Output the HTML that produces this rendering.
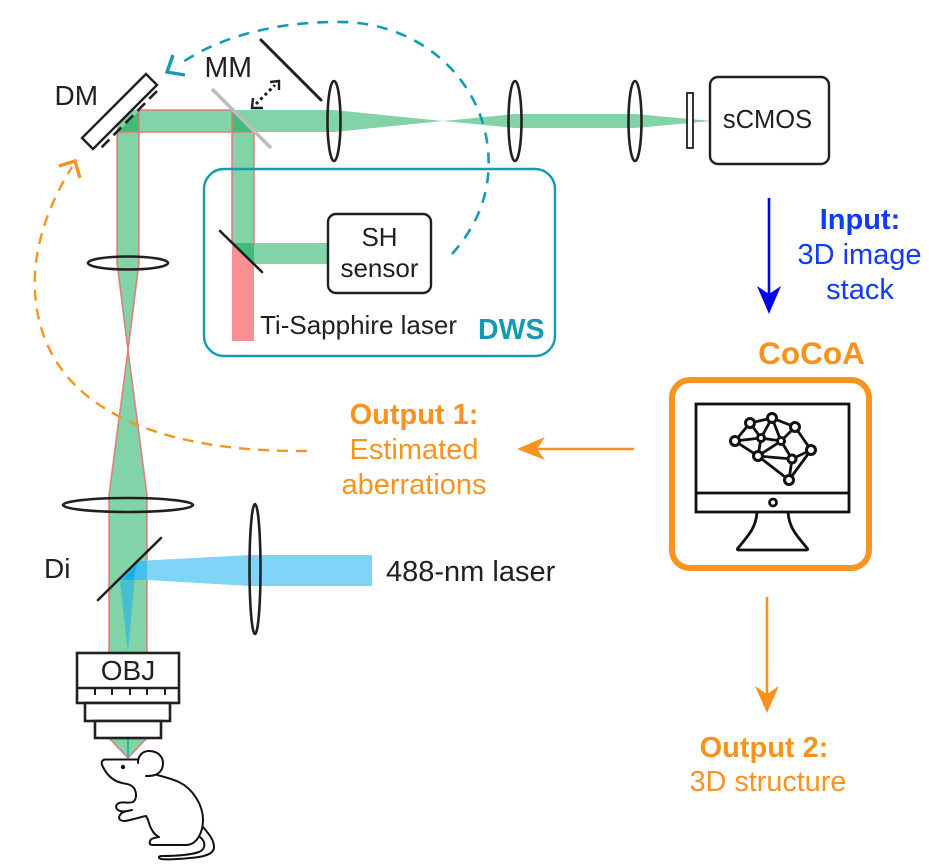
<!DOCTYPE html>
<html><head><meta charset="utf-8"><style>
html,body{margin:0;padding:0;background:#fff}
svg{display:block}
text{font-family:"Liberation Sans",Arial,sans-serif;fill:#231f20}
.o{fill:#f7931e}.b{fill:#0f3cf5}.bd{font-weight:bold}
.m{text-anchor:middle}
</style></head><body>
<svg width="929" height="864" viewBox="0 0 929 864" xmlns="http://www.w3.org/2000/svg">
<!-- beams -->
<g>
<polygon points="232,245 254,245 254,341 232,341" fill="#f98f95"/>
<polygon points="117,110 254,110 334,110 443,121 334,132 139,132 139,263 128,350 147,495 147,655 109,655 109,495 128,350 117,263" fill="#82d3a8"/>
<polygon points="232,132 254,132 254,264 328,264 328,243 232,243" fill="#82d3a8"/>
<polygon points="443,121 515,114 635,114 712,121 635,128 515,128" fill="#82d3a8"/>
<polygon points="109,738 147,738 128,758" fill="#82d3a8"/>
<line x1="128" y1="738" x2="128" y2="758" stroke="#2db89a" stroke-width="2"/>
<polygon points="118,132 139,132 139,111" fill="#3fbc7a"/>
<polygon points="232,110 254,132 232,132" fill="#3fbc7a"/>
<polygon points="232,243 254,243 254,264" fill="#3fbc7a"/>
<g fill="none" stroke="#e57373" stroke-width="1.6" opacity=".9">
<path d="M117,263 V132 H254 M139,263 V110 H232 M232,110 V243 M254,132 V245"/>
<path d="M117,263 L128,350 L139,263 M128,350 L109,495 V655 M128,350 L147,495 V655"/>
<path d="M109,738 L128,758 L147,738"/>
</g>
<polygon points="137,561 250,555 372,555 372,586 250,586 147,580 118,580" fill="#7fd4f7"/>
<polygon points="137,561 147,561 147,580 118,580" fill="#2dbbea" opacity=".75"/>
<polygon points="120,582 136,566 128,653" fill="#2db8de" opacity=".7"/>
<polygon points="122,580 137,564 133,580" fill="#17aee6"/>
</g>
<!-- DWS -->
<rect x="204" y="169" width="351" height="187" rx="20" fill="none" stroke="#169ab4" stroke-width="2.4"/>
<rect x="328" y="214" width="103" height="79" rx="8" fill="#fff" stroke="#231f20" stroke-width="2.4"/>
<rect x="710" y="77" width="119" height="87" rx="8" fill="#fff" stroke="#231f20" stroke-width="2.4"/>
<rect x="687" y="93" width="6" height="55" fill="#fff" stroke="#231f20" stroke-width="1.8"/>
<!-- lenses -->
<g fill="none" stroke="#231f20" stroke-width="2.6">
<ellipse cx="334" cy="121" rx="6.5" ry="40"/>
<ellipse cx="515" cy="121" rx="6.5" ry="40"/>
<ellipse cx="635" cy="121" rx="6.5" ry="40"/>
<ellipse cx="128" cy="263" rx="40" ry="6.5"/>
<ellipse cx="128" cy="505" rx="65" ry="7"/>
<ellipse cx="255" cy="569" rx="5.5" ry="65"/>
</g>
<!-- mirrors -->
<line x1="212" y1="89" x2="271" y2="148" stroke="#bdbdbd" stroke-width="3.6"/>
<g stroke="#231f20" fill="none" stroke-linecap="round">
<line x1="261" y1="40" x2="321" y2="100" stroke-width="3"/>
<line x1="220" y1="231" x2="262" y2="272" stroke-width="2.6"/>
<line x1="98" y1="600" x2="161" y2="538" stroke-width="2.6"/>
<polygon points="146,74 157,85 93,149 82,138" fill="#fff" stroke-width="2.4" stroke-linejoin="miter"/>
<line x1="157" y1="91" x2="99" y2="150" stroke-width="2.6" stroke-dasharray="11 6" stroke-linecap="butt"/>
<line x1="256" y1="104" x2="275" y2="85" stroke-width="3" stroke-dasharray="3 3.2" stroke-linecap="butt"/>
<path d="M253,98 L252,108 L263,108 M270,82 L279,81 L279,90" stroke-width="2.4" stroke-linecap="butt"/>
</g>
<!-- curved -->
<path d="M452,254 C478,225 492,190 488,150 C482,80 420,20 335,22 C270,22 215,40 183,62" fill="none" stroke="#169ab4" stroke-width="2.6" stroke-dasharray="11 9"/>
<path d="M173,55 L167,72 L185,75" fill="none" stroke="#169ab4" stroke-width="3.4"/>
<path d="M307,451 C200,452 120,430 75,385 C35,345 30,290 38,250 C45,215 58,190 72,167" fill="none" stroke="#f7931e" stroke-width="2.4" stroke-dasharray="11 8"/>
<path d="M59,166 L75,161 L80,178" fill="none" stroke="#f7931e" stroke-width="3.4"/>
<!-- straight arrows -->
<line x1="769" y1="198" x2="769" y2="295" stroke="#0000f0" stroke-width="2.6"/>
<polygon points="757,286 769,294 781,286 769,314" fill="#0000f0"/>
<line x1="634" y1="449" x2="530" y2="449" stroke="#f7931e" stroke-width="2.6"/>
<polygon points="517,449 545,437 537,449 545,460" fill="#f7931e"/>
<line x1="767" y1="597" x2="767" y2="695" stroke="#f7931e" stroke-width="2.6"/>
<polygon points="755,686 767,694 779,686 767,713" fill="#f7931e"/>
<!-- objective -->
<g fill="#fff" stroke="#231f20" stroke-width="2.6">
<rect x="77" y="653" width="102" height="50"/>
<rect x="85" y="703" width="85" height="18"/>
<rect x="95" y="721" width="66" height="17"/>
</g>
<path d="M77,688 H179" fill="none" stroke="#231f20" stroke-width="2.6"/>
<path d="M95,688 V695 M112,688 V695 M130,688 V695 M147,688 V695 M165,688 V695" fill="none" stroke="#231f20" stroke-width="2"/>
<!-- mouse -->
<g fill="none" stroke="#111" stroke-width="2" stroke-linejoin="round" stroke-linecap="round">
<path d="M203,827 C209,834 214,840 214,847 C214,854 205,857 190,858 C180,859 168,860 161,859 C158,858 158,856 162,856 C175,856 190,855 199,852 C206,849 206,842 200,837" fill="#fff"/>
<path d="M137,759.5 H105 C101,760 101,764 103,767 C107,775 113,781 122,783 C128,784 133,785 135,790 C137,795 136,800 133,802 C128,804 123,801 119,803 C115,805 115,809 120,811 C124,812 128,811 132,810 C127,811 121,812 120,815 C118,818 119,821 125,821 C132,820 140,817 146,816 C149,820 149,826 152,830 C154,834 157,836 159,837 C155,838 151,838 150,841 C149,844 150,845 153,845 H186 C197,845 203,832 203,820 C203,805 193,789 179,782 C172,779 165,777 157,775" fill="#fff"/>
<path d="M138,763 C138,755 143,751 149,751 C158,751 163,757 163,763 C163,769 160,773 155,775 C152,776 149,776 146,776" fill="#fff"/>
</g>
<circle cx="123" cy="767" r="2.2" fill="#111"/>
<!-- CoCoA box -->
<rect x="672" y="380" width="197" height="188" rx="18" fill="#fff" stroke="#f7931e" stroke-width="6"/>
<g fill="none" stroke="#111" stroke-width="2.8">
<rect x="696" y="404" width="153" height="108" fill="#fff"/>
<line x1="696" y1="493" x2="849" y2="493"/>
<circle cx="773" cy="502.5" r="3.5"/>
<path d="M757,512 C756,528 748,536 738,548 C737,549 737,550 739,550 H806 C808,550 808,549 807,548 C797,536 789,528 788,512"/>
<path d="M735,441 L750,423 L772,418 L795,427 L811,450 L792,459 L758,456 Z M750,423 L761,438 L735,441 M761,438 L772,418 L781,441 L761,438 L758,456 L781,441 L795,427 M781,441 L792,459 L789,480 L758,456 M789,480 L811,450"/>
<g fill="#fff" stroke-width="3">
<circle cx="735" cy="441" r="4.5"/><circle cx="750" cy="423" r="4.5"/><circle cx="772" cy="418" r="4.5"/><circle cx="795" cy="427" r="4.5"/><circle cx="811" cy="450" r="4.5"/><circle cx="792" cy="459" r="4"/><circle cx="789" cy="480" r="4.5"/><circle cx="758" cy="456" r="4.5"/><circle cx="761" cy="438" r="3.5"/><circle cx="781" cy="441" r="3.5"/>
</g>
</g>
<!-- text -->
<text x="54.5" y="105" font-size="28">DM</text>
<text x="204.5" y="77" font-size="28.5">MM</text>
<text x="767.5" y="128" font-size="25.5" class="m">sCMOS</text>
<text x="379.5" y="246" font-size="26" class="m">SH</text>
<text x="379.5" y="277" font-size="26" class="m">sensor</text>
<text x="260" y="334" font-size="26">Ti-Sapphire laser</text>
<text x="478" y="339" font-size="28.5" class="bd" style="fill:#169ab4">DWS</text>
<text x="44" y="578" font-size="28">Di</text>
<text x="128" y="680" font-size="28" class="m">OBJ</text>
<text x="386" y="581" font-size="29">488-nm laser</text>
<text x="860" y="229" font-size="29" class="b bd m">Input:</text>
<text x="859.5" y="264" font-size="29" class="b m">3D image</text>
<text x="860" y="299" font-size="29" class="b m">stack</text>
<text x="811.5" y="364" font-size="31.5" class="o bd m">CoCoA</text>
<text x="414" y="424" font-size="29" class="o bd m">Output 1:</text>
<text x="414" y="459" font-size="29" class="o m">Estimated</text>
<text x="414" y="494" font-size="29" class="o m">aberrations</text>
<text x="764" y="757" font-size="29" class="o bd m">Output 2:</text>
<text x="768" y="791" font-size="28.8" class="o m">3D structure</text>
</svg>
</body></html>
